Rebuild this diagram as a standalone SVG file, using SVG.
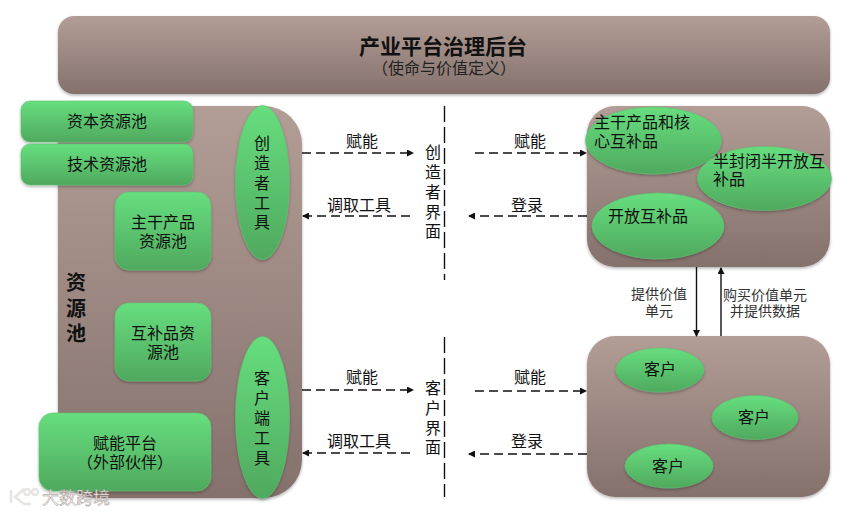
<svg xmlns="http://www.w3.org/2000/svg" width="845" height="514" viewBox="0 0 845 514">
<style>
text{font-family:"Noto Sans CJK SC","Liberation Sans",sans-serif;font-size:16px;fill:#111;text-anchor:middle;dominant-baseline:central;transform:translateY(-1px)}
.l{text-anchor:start}
.s{font-size:14px;fill:#333}
.b{font-size:20px;font-weight:700}
.brown{fill:url(#gb);filter:url(#sh)}
.green{fill:url(#gg);stroke:#5fc274;stroke-width:.6;filter:url(#sh)}
.d{fill:none;stroke:#111;stroke-width:1.4;stroke-dasharray:9 5}
.v{fill:none;stroke:#111;stroke-width:1.4;stroke-dasharray:16 5}
.a{fill:none;stroke:#111;stroke-width:1.4}
</style>
<defs>
<linearGradient id="gb" x1="0" y1="0" x2="0" y2="1"><stop offset="0" stop-color="#b29e96"/><stop offset="1" stop-color="#85716c"/></linearGradient>
<linearGradient id="gg" x1="0" y1="0" x2="0" y2="1"><stop offset="0" stop-color="#67de7e"/><stop offset="1" stop-color="#4fa95e"/></linearGradient>
<filter id="sh" x="-10%" y="-10%" width="120%" height="120%"><feDropShadow dx="0" dy="1.5" stdDeviation="1.5" flood-color="#000" flood-opacity=".3"/></filter>
<marker id="m" markerWidth="7" markerHeight="7" refX="6" refY="3.5" orient="auto" markerUnits="userSpaceOnUse"><path d="M0 0L7 3.5L0 7Z" fill="#111"/></marker>
</defs>
<g id="platform"><rect class="brown" x="58" y="16" width="772" height="78" rx="16"/>
<text x="443" y="46" style="font-size:21px;font-weight:700">产业平台治理后台</text><text x="444" y="68" style="font-size:16px;fill:#222">（使命与价值定义）</text></g>
<g id="pool"><rect class="brown" x="58" y="106" width="244" height="392" rx="38"/>
<text class="b" x="76" y="282">资</text><text class="b" x="76" y="308">源</text><text class="b" x="76" y="333">池</text></g>
<g id="capital"><rect class="green" x="21" y="101" width="172" height="41" rx="9"/><text x="107" y="121">资本资源池</text></g>
<g id="tech"><rect class="green" x="21" y="144" width="172" height="41" rx="9"/><text x="107" y="164">技术资源池</text></g>
<g id="main-pool"><rect class="green" x="115" y="192" width="96" height="78" rx="14"/><text x="163" y="222">主干产品</text><text x="163" y="241">资源池</text></g>
<g id="comp-pool"><rect class="green" x="115" y="303" width="96" height="78" rx="14"/><text x="163" y="333">互补品资</text><text x="163" y="352">源池</text></g>
<g id="enable"><rect class="green" x="39" y="413" width="172" height="78" rx="14"/><text x="125" y="443">赋能平台</text><text x="125" y="462">（外部伙伴）</text></g>
<g id="creator-tool"><ellipse class="green" cx="262.500" cy="182.500" rx="27" ry="77"/><text x="262" y="143">创</text><text x="262" y="163">造</text><text x="262" y="183">者</text><text x="262" y="203">工</text><text x="262" y="222">具</text></g>
<g id="client-tool"><ellipse class="green" cx="262.500" cy="417.500" rx="27" ry="81"/><text x="262" y="378">客</text><text x="262" y="398">户</text><text x="262" y="418">端</text><text x="262" y="438">工</text><text x="262" y="458">具</text></g>
<g id="creator-if"><text x="433" y="152">创</text><text x="433" y="172">造</text><text x="433" y="192">者</text><text x="433" y="212">界</text><text x="433" y="231">面</text></g>
<g id="client-if"><text x="433" y="388">客</text><text x="433" y="408">户</text><text x="433" y="428">界</text><text x="433" y="447">面</text></g>
<g id="products"><rect class="brown" x="587" y="106" width="243" height="161" rx="28"/>
<ellipse class="green" cx="653.500" cy="140.500" rx="68" ry="33.500"/><text class="l" x="594" y="122">主干产品和核</text><text class="l" x="594" y="141">心互补品</text>
<ellipse class="green" cx="764.500" cy="178.500" rx="67" ry="32"/><text class="l" x="713" y="161">半封闭半开放互</text><text class="l" x="713" y="179">补品</text>
<ellipse class="green" cx="658" cy="226" rx="66" ry="33"/><text class="l" x="608" y="216">开放互补品</text></g>
<g id="customers"><rect class="brown" x="587" y="336" width="243" height="161" rx="28"/>
<ellipse class="green" cx="660" cy="370" rx="44" ry="22"/><text x="660" y="369">客户</text>
<ellipse class="green" cx="755" cy="417.500" rx="43" ry="22"/><text x="754" y="417">客户</text>
<ellipse class="green" cx="669" cy="466" rx="44" ry="22"/><text x="668" y="466">客户</text></g>
<g id="connectors">
<path class="v" d="M444.500 106V280M444.500 337V497"/>
<path class="d" marker-end="url(#m)" d="M302 153H413"/><path class="d" marker-end="url(#m)" d="M410 216H303"/>
<path class="d" marker-end="url(#m)" d="M475 153H586"/><path class="d" marker-end="url(#m)" d="M587 216H469"/>
<path class="d" marker-end="url(#m)" d="M302 390H413"/><path class="d" marker-end="url(#m)" d="M410 453H303"/>
<path class="d" marker-end="url(#m)" d="M475 391H586"/><path class="d" marker-end="url(#m)" d="M587 454H469"/>
<path class="a" marker-end="url(#m)" d="M696.500 267V336"/><path class="a" marker-end="url(#m)" d="M721 336V268"/>
<text x="362" y="141">赋能</text><text x="359" y="205">调取工具</text><text x="530" y="141">赋能</text><text x="527" y="205">登录</text>
<text x="362" y="377">赋能</text><text x="359" y="441">调取工具</text><text x="530" y="377">赋能</text><text x="527" y="441">登录</text>
<text class="s" x="659" y="294">提供价值</text><text class="s" x="659" y="311">单元</text>
<text class="s" x="765" y="295">购买价值单元</text><text class="s" x="765" y="311">并提供数据</text>
</g>
<g id="watermark"><path d="M11 490V503M24 489L15 497L24 504L31 504M27 489a3 3 0 1 0 .1 0M35 489a3 3 0 1 0 .1 0" fill="none" stroke="#e8e4e2" stroke-width="2.500"/>
<text x="76" y="497" style="font-size:17px;fill:#f4f2f1;stroke:#9a8a85;stroke-width:.4">大数跨境</text></g>
</svg>
